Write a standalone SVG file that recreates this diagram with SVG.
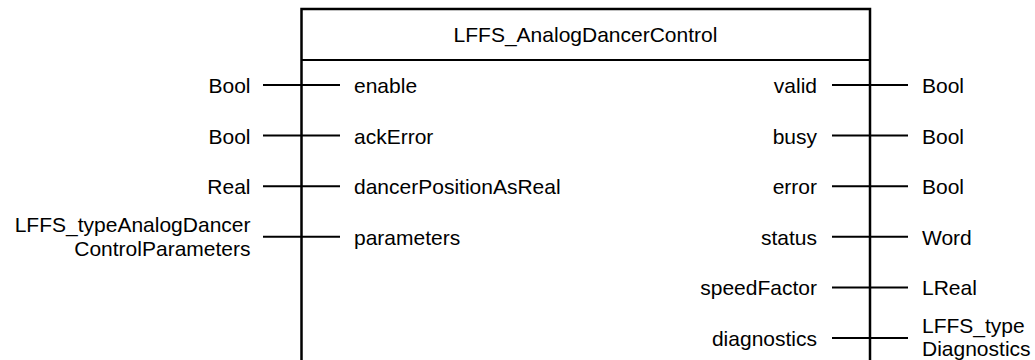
<svg xmlns="http://www.w3.org/2000/svg" width="1035" height="360" viewBox="0 0 1035 360">
  <style>
    text { font-family: "Liberation Sans", Arial, sans-serif; font-size: 21px; fill: #000; }
    .end { text-anchor: end; }
    .mid { text-anchor: middle; }
    .box { fill: #fff; stroke: #000; stroke-width: 2.5; }
    .wire { stroke: #000; stroke-width: 2; fill: none; }
  </style>
  <rect width="1035" height="360" fill="#fff"/>

  <!-- function block body -->
  <g id="block">
    <rect class="box" x="301.5" y="9" width="568.5" height="370"/>
    <line class="wire" x1="301.5" y1="60" x2="870" y2="60" stroke-width="2.5"/>
    <text class="mid" x="585.5" y="42">LFFS_AnalogDancerControl</text>
  </g>

  <!-- pin wires -->
  <g id="connectors">
    <line class="wire" x1="263" y1="85" x2="340" y2="85"/>
    <line class="wire" x1="263" y1="135.6" x2="340" y2="135.6"/>
    <line class="wire" x1="263" y1="186.2" x2="340" y2="186.2"/>
    <line class="wire" x1="263" y1="236.8" x2="340" y2="236.8"/>
    <line class="wire" x1="832" y1="85" x2="908" y2="85"/>
    <line class="wire" x1="832" y1="135.6" x2="908" y2="135.6"/>
    <line class="wire" x1="832" y1="186.2" x2="908" y2="186.2"/>
    <line class="wire" x1="832" y1="236.8" x2="908" y2="236.8"/>
    <line class="wire" x1="832" y1="287.4" x2="908" y2="287.4"/>
    <line class="wire" x1="832" y1="338" x2="908" y2="338"/>
  </g>

  <!-- inputs -->
  <g id="in-enable">
    <text class="end" x="250.5" y="93">Bool</text>
    <text x="354" y="93">enable</text>
  </g>
  <g id="in-ackError">
    <text class="end" x="250.5" y="143.6">Bool</text>
    <text x="354" y="143.6">ackError</text>
  </g>
  <g id="in-dancerPositionAsReal">
    <text class="end" x="250.5" y="194.2">Real</text>
    <text x="354" y="194.2">dancerPositionAsReal</text>
  </g>
  <g id="in-parameters">
    <text class="end" x="250.5" y="232">LFFS_typeAnalogDancer</text>
    <text class="end" x="250.5" y="256">ControlParameters</text>
    <text x="354" y="244.8">parameters</text>
  </g>

  <!-- outputs -->
  <g id="out-valid">
    <text class="end" x="817" y="93">valid</text>
    <text x="922" y="93">Bool</text>
  </g>
  <g id="out-busy">
    <text class="end" x="817" y="143.6">busy</text>
    <text x="922" y="143.6">Bool</text>
  </g>
  <g id="out-error">
    <text class="end" x="817" y="194.2">error</text>
    <text x="922" y="194.2">Bool</text>
  </g>
  <g id="out-status">
    <text class="end" x="817" y="244.8">status</text>
    <text x="922" y="244.8">Word</text>
  </g>
  <g id="out-speedFactor">
    <text class="end" x="817" y="295.4">speedFactor</text>
    <text x="922" y="295.4">LReal</text>
  </g>
  <g id="out-diagnostics">
    <text class="end" x="817" y="346">diagnostics</text>
    <text x="922" y="332.5">LFFS_type</text>
    <text x="922" y="356">Diagnostics</text>
  </g>
</svg>
